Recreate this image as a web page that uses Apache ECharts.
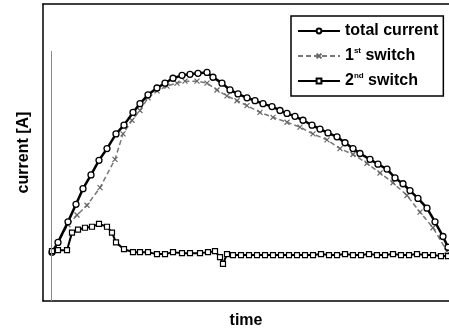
<!DOCTYPE html>
<html><head><meta charset="utf-8">
<script src="https://cdn.jsdelivr.net/npm/echarts@6/dist/echarts.min.js"></script>
<style>html,body{margin:0;padding:0;background:#fff}#c{width:449px;height:334px}</style>
</head><body><div id="c"></div>
<script>
// time (arbitrary units) and current (arbitrary units)
const totalTime = [9,15,25,33,40,48,56,64,73,81,90,97,105,114,122,130,139,147,155,164,170,179,187,195,204,212,220,229,237,244,252,260,269,277,285,294,302,310,317,327,335,344,352,360,367,375,384,392,400,405];
const totalCurrent = [0,10,31,49,65,79,94,106,121,130,143,152,161,168,173,178,181,182,183,184,179,173,166,162,158,155,152,149,145,142,139,135,130,126,122,118,112,106,101,95,90,85,76,70,63,55,45,31,16,5];
const sw1Time = [9,25,34,44,57,72,80,89,97,105,114,124,134,142,154,164,174,184,194,204,217,230,244,257,270,284,297,310,324,337,350,364,377,390,404];
const sw1Current = [0,28,38,48,66,95,121,135,145,158,165,170,173,175,175,173,166,160,155,150,143,138,133,128,121,115,106,100,91,81,71,58,41,25,1];
const sw2Time = [9,15,24,29,35,42,49,56,64,69,73,81,90,97,105,114,122,130,139,147,157,165,172,177,180,184,190,198,206,214,222,230,238,246,254,262,270,278,286,294,302,310,318,326,334,342,350,358,366,374,382,390,398,405];
const sw2Current = [1,2,2,20,23,25,26,29,26,20,10,3,0,0,0,-2,-2,0,-1,-1,-1,0,1,-5,-12,-2,-3,-3,-3,-3,-3,-3,-3,-3,-3,-3,-3,-2,-3,-3,-2,-3,-3,-2,-3,-3,-2,-3,-3,-2,-3,-3,-4,-4];
const seriesNames = ['total current', '1st switch', '2nd switch'];
const markerTime = 8;

const zip = (a, b) => a.map((v, i) => [v, b[i]]);
const chart = echarts.init(document.getElementById('c'), null, {renderer: 'canvas'});
const font = 'Liberation Sans, Arial, sans-serif';
chart.setOption({
  animation: false,
  backgroundColor: '#fff',
  grid: {left: 43, right: 0, top: 4, bottom: 26},
  xAxis: [{
    type: 'value', min: 0, max: 406,
    name: 'time', nameLocation: 'middle', nameGap: 12,
    nameTextStyle: {fontFamily: font, fontWeight: 'bold', fontSize: 16, color: '#000'},
    axisLine: {show: true, onZero: false, lineStyle: {color: '#000', width: 1.5}},
    axisTick: {show: false}, axisLabel: {show: false}, splitLine: {show: false}
  }, {
    type: 'value', min: 0, max: 406, position: 'top',
    axisLine: {show: true, onZero: false, lineStyle: {color: '#000', width: 1.5}},
    axisTick: {show: false}, axisLabel: {show: false}, splitLine: {show: false}
  }],
  yAxis: {
    type: 'value', min: -50, max: 254,
    name: 'current [A]', nameLocation: 'middle', nameGap: 11,
    nameTextStyle: {fontFamily: font, fontWeight: 'bold', fontSize: 16, color: '#000'},
    axisLine: {show: true, onZero: false, lineStyle: {color: '#000', width: 1.5}},
    axisTick: {show: false}, axisLabel: {show: false}, splitLine: {show: false}
  },
  legend: {
    orient: 'vertical', left: 291, top: 16,
    padding: [7, 5, 7, 6],
    itemGap: 8, itemWidth: 42, itemHeight: 6,
    borderColor: '#000', borderWidth: 1.5, backgroundColor: '#fff',
    data: seriesNames,
    formatter: function (n) {
      if (n === '1st switch') return '{a|1}{s|st}{a| switch}';
      if (n === '2nd switch') return '{a|2}{s|nd}{a| switch}';
      return '{a|' + n + '}';
    },
    textStyle: {
      fontFamily: font, fontWeight: 'bold', fontSize: 16, color: '#000',
      rich: {
        a: {fontFamily: font, fontWeight: 'bold', fontSize: 16, color: '#000', lineHeight: 18},
        s: {fontFamily: font, fontWeight: 'bold', fontSize: 8, color: '#000', verticalAlign: 'top', lineHeight: 18, padding: [0, 0, 6, 0]}
      }
    }
  },
  series: [{
    name: seriesNames[0], type: 'line', data: zip(totalTime, totalCurrent),
    symbol: 'circle', symbolSize: 6, showAllSymbol: true,
    lineStyle: {color: '#000', width: 2.5},
    itemStyle: {color: '#fff', borderColor: '#000', borderWidth: 1.3},
    z: 3
  }, {
    name: seriesNames[1], type: 'line', data: zip(sw1Time, sw1Current),
    symbol: 'path://M0,0L10,10M10,0L0,10', symbolSize: 5, showAllSymbol: true,
    lineStyle: {color: '#777', width: 1.5, type: [5, 3]},
    itemStyle: {color: '#777', borderColor: '#666', borderWidth: 1.2},
    z: 2,
    markLine: {
      silent: true, symbol: 'none', label: {show: false},
      lineStyle: {color: '#888', width: 1, type: 'solid'},
      data: [[{coord: [markerTime, -50]}, {coord: [markerTime, 206]}]]
    }
  }, {
    name: seriesNames[2], type: 'line', data: zip(sw2Time, sw2Current),
    symbol: 'rect', symbolSize: 5, showAllSymbol: true,
    lineStyle: {color: '#000', width: 2},
    itemStyle: {color: '#fff', borderColor: '#000', borderWidth: 1.2},
    z: 3
  }]
});
</script>
</body></html>
